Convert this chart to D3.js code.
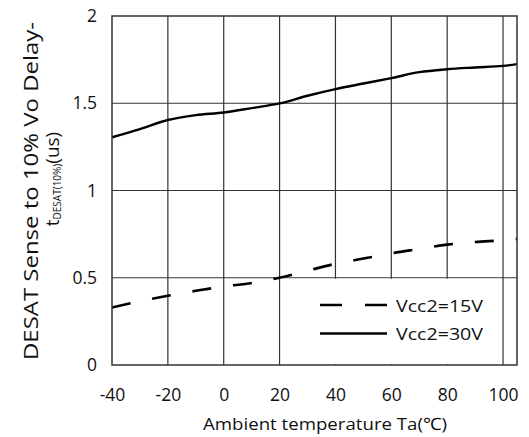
<!DOCTYPE html>
<html><head><meta charset="utf-8">
<script src="https://cdn.jsdelivr.net/npm/d3@7"></script>
<style>body{margin:0;background:#fff}svg{display:block}text{font-family:"Open Sans","Noto Sans",sans-serif;fill:#111}</style>
</head><body><svg id="c" width="529" height="437"></svg>
<script>
const temps = [-40,-30,-20,-10,0,10,20,30,40,50,60,70,80,90,100,105];
const vcc15 = [0.33,0.365,0.397,0.425,0.45,0.47,0.50,0.54,0.58,0.61,0.64,0.665,0.69,0.705,0.715,0.722];
const vcc30 = [1.305,1.352,1.404,1.432,1.447,1.472,1.499,1.543,1.581,1.613,1.644,1.678,1.695,1.705,1.714,1.724];
const xTicks = [-40,-20,0,20,40,60,80,100];
const yTicks = [0,0.5,1,1.5,2];
const seriesNames = ["Vcc2=15V","Vcc2=30V"];

const svg = d3.select("#c");
const L=112,R=517,T=16,B=365;
const x = d3.scaleLinear().domain([-40,105]).range([L,R]);
const y = d3.scaleLinear().domain([0,2]).range([B,T]);

// grid
const g = svg.append("g");
g.selectAll(".vx").data(xTicks.filter(d=>d>-40)).enter().append("line")
 .attr("x1",d=>x(d)).attr("x2",d=>x(d)).attr("y1",T).attr("y2",B)
 .attr("stroke","#333").attr("stroke-width",1.2);
g.selectAll(".hy").data(yTicks.filter(d=>d>0&&d<2)).enter().append("line")
 .attr("x1",L).attr("x2",R).attr("y1",d=>y(d)).attr("y2",d=>y(d))
 .attr("stroke","#333").attr("stroke-width",1.2);

// axes
const xa = svg.append("g").attr("transform",`translate(0,${B})`)
 .call(d3.axisBottom(x).tickValues(xTicks).tickSize(0).tickPadding(24).tickFormat(d=>String(d)));
xa.select(".domain").remove();
xa.selectAll("text").style("font-size","17.5px").attr("fill","#111");
const ya = svg.append("g").attr("transform",`translate(${L},0)`)
 .call(d3.axisLeft(y).tickValues(yTicks).tickSize(0).tickPadding(15).tickFormat(d=>String(d)));
ya.select(".domain").remove();
ya.selectAll("text").style("font-size","17.5px").attr("fill","#111");

// lines
const line = d3.line().x((d,i)=>x(temps[i])).y(d=>y(d)).curve(d3.curveMonotoneX);
svg.append("path").attr("d",line(vcc15)).attr("fill","none").attr("stroke","#000")
 .attr("stroke-width",2.6).attr("stroke-dasharray","19,22");
svg.append("path").attr("d",line(vcc30)).attr("fill","none").attr("stroke","#000")
 .attr("stroke-width",2.4);

// legend box
svg.append("rect").attr("x",x(20)+1.2).attr("y",y(0.5)+1).attr("width",x(100)-x(20)-2.4).attr("height",B-y(0.5)-2).attr("fill","#fff");
const lg = [{dash:"22,23",y:305},{dash:null,y:333.5}];
lg.forEach((d,i)=>{
  svg.append("line").attr("x1",320).attr("x2",387).attr("y1",d.y).attr("y2",d.y)
   .attr("stroke","#000").attr("stroke-width",2.6).attr("stroke-dasharray",d.dash);
  svg.append("text").attr("x",396).attr("y",d.y+6.5).style("font-size","17px")
   .attr("textLength",87).attr("lengthAdjust","spacingAndGlyphs").text(seriesNames[i]);
});

// border
svg.append("rect").attr("x",L).attr("y",T).attr("width",R-L).attr("height",B-T)
 .attr("fill","none").attr("stroke","#333").attr("stroke-width",1.5);

// titles
svg.append("text").attr("x",325).attr("y",430).attr("text-anchor","middle")
 .style("font-size","17px").attr("textLength",244).attr("lengthAdjust","spacingAndGlyphs")
 .text("Ambient temperature Ta(℃)");
svg.append("text").attr("transform","translate(37.5,191) rotate(-90)").attr("text-anchor","middle")
 .style("font-size","19.5px").attr("textLength",338).attr("lengthAdjust","spacingAndGlyphs")
 .text("DESAT Sense to 10% Vo Delay-");
const t2 = svg.append("text").attr("transform","translate(59,179) rotate(-90)").attr("text-anchor","middle")
 .style("font-size","19px");
t2.append("tspan").text("t");
t2.append("tspan").style("font-size","10px").attr("dy","2").text("DESAT(10%)");
t2.append("tspan").attr("dy","-2").text("(us)");
</script></body></html>
